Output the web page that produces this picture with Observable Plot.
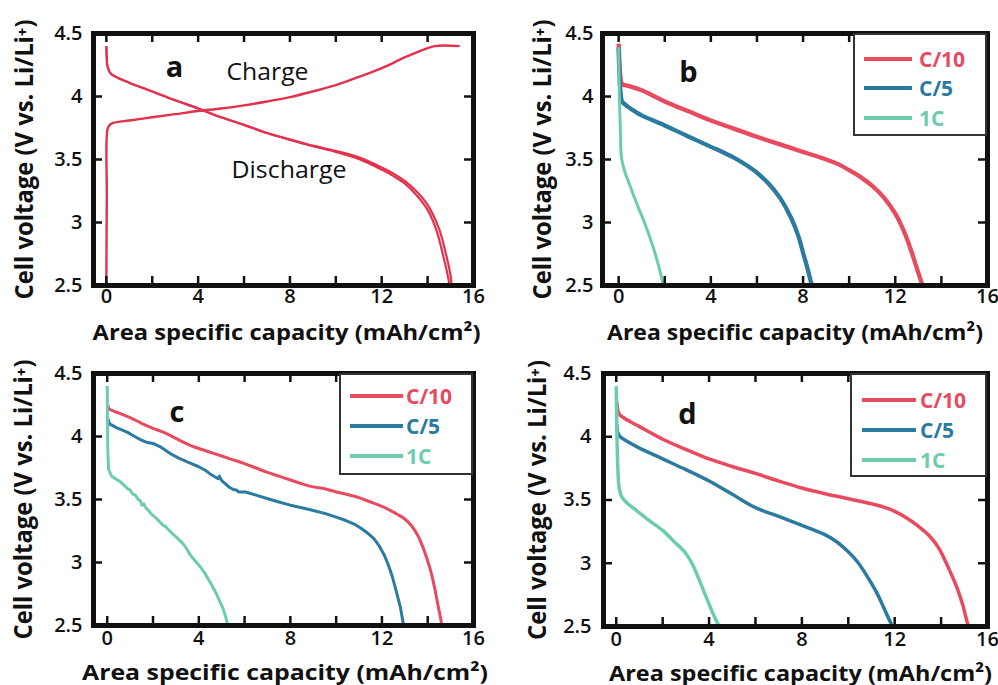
<!DOCTYPE html>
<html><head><meta charset="utf-8">
<script src="https://cdn.jsdelivr.net/npm/d3@7"></script>
<script src="https://cdn.jsdelivr.net/npm/@observablehq/plot@0.6"></script>
<style>
body{margin:0;background:#fff;}
#fig{position:relative;width:998px;height:685px;font-family:"Open Sans",sans-serif;overflow:hidden;}
.panel{position:absolute;}
.legend{position:absolute;border:2px solid #333;background:#fff;box-sizing:border-box;}
.legend .lb{position:absolute;font-weight:700;font-size:21px;line-height:1;transform:translateY(-50%);white-space:nowrap;}
.legend .sw{position:absolute;}
</style></head>
<body><div id="fig"></div>
<script>
// ---- tick values and labels ----
const xMinorTicks = [0, 2, 4, 6, 8, 10, 12, 14];
const yMinorTicks = [3, 3.5, 4];
const xTickLabels = [0, 4, 8, 12, 16];
const yTickLabels = [2.5, 3, 3.5, 4, 4.5];
const yAxisTitle = "Cell voltage (V vs. Li/Li⁺)";
const xAxisTitle = "Area specific capacity (mAh/cm²)";
const rateNames = ["C/10", "C/5", "1C"];
const rateColors = ["#e84a5f", "#2b7ba1", "#6ccdae"];
const panelAColor = "#e3324d";

// ---- panel a: charge / discharge (capacity, voltage) ----
const aCharge = [[0,2.5],[0.02,3.2],[0.05,3.74],[0.15,3.775],[0.3,3.79],[1,3.81],[2,3.835],[3,3.86],[4,3.885],[5,3.905],[6,3.93],[7,3.96],[8,3.995],[9,4.04],[10,4.09],[11,4.155],[12,4.225],[13,4.31],[13.8,4.37],[14.3,4.40],[15.4,4.40]];
const aDischarge1 = [[0,4.40],[0.02,4.30],[0.05,4.24],[0.2,4.18],[1,4.11],[2,4.04],[3,3.97],[4,3.905],[5,3.835],[6,3.775],[7,3.71],[8,3.655],[9,3.605],[10,3.56],[11,3.505],[12,3.42],[12.5,3.37],[13,3.31],[13.5,3.22],[14,3.10],[14.4,2.93],[14.7,2.72],[14.9,2.56],[14.95,2.5]];
const aDischarge2 = [[0,4.40],[0.02,4.30],[0.05,4.24],[0.2,4.18],[1,4.11],[2,4.04],[3,3.97],[4,3.905],[5,3.835],[6,3.775],[7,3.71],[8,3.66],[9,3.61],[10,3.568],[11,3.517],[12,3.437],[12.5,3.39],[13,3.33],[13.5,3.25],[14,3.14],[14.5,2.95],[14.8,2.75],[15.0,2.58],[15.05,2.5]];

// ---- panel b ----
const bC10 = [[0,4.42],[0.03,4.3],[0.08,4.15],[0.15,4.10],[0.5,4.08],[1,4.05],[2,3.96],[3,3.885],[4,3.81],[5,3.745],[6,3.68],[7,3.62],[8,3.56],[9,3.50],[9.5,3.465],[10,3.415],[10.5,3.36],[11,3.29],[11.5,3.20],[12,3.07],[12.4,2.92],[12.7,2.77],[13,2.6],[13.18,2.5]];
const bC5 = [[0,4.39],[0.03,4.2],[0.1,4.0],[0.15,3.96],[0.4,3.92],[0.72,3.88],[1,3.85],[2,3.77],[3,3.685],[4,3.60],[4.5,3.56],[5,3.515],[5.5,3.46],[6,3.395],[6.5,3.31],[7,3.195],[7.5,3.03],[7.8,2.89],[8,2.76],[8.2,2.63],[8.38,2.5]];
const b1C = [[0,4.39],[0.03,4.0],[0.08,3.7],[0.12,3.52],[0.29,3.39],[0.5,3.29],[0.72,3.18],[1.16,2.98],[1.59,2.75],[1.95,2.5]];

// ---- panel c ----
const cC10 = [[0.03,4.25],[0.08,4.22],[0.3,4.2],[0.6,4.18],[1,4.15],[1.5,4.105],[2,4.065],[2.5,4.03],[3,3.985],[3.5,3.94],[4,3.905],[4.5,3.875],[5,3.845],[5.5,3.815],[6,3.785],[6.5,3.75],[7,3.715],[7.5,3.685],[8,3.655],[8.5,3.625],[9,3.6],[9.5,3.585],[10,3.56],[10.5,3.54],[11,3.515],[11.5,3.48],[12,3.445],[12.5,3.40],[13,3.345],[13.3,3.29],[13.55,3.22],[13.75,3.14],[13.95,3.04],[14.15,2.92],[14.3,2.80],[14.45,2.66],[14.58,2.54],[14.62,2.5]];
const cC5 = [[0.03,4.14],[0.1,4.10],[0.4,4.07],[0.87,4.035],[1.2,4.0],[1.45,3.975],[1.7,3.955],[2.0,3.945],[2.3,3.92],[2.75,3.865],[3.1,3.83],[3.47,3.80],[4.0,3.76],[4.3,3.73],[4.48,3.705],[4.7,3.68],[4.84,3.665],[4.9,3.685],[5.0,3.65],[5.35,3.595],[5.5,3.58],[5.64,3.575],[5.75,3.56],[6.04,3.56],[6.5,3.535],[6.94,3.51],[7.5,3.48],[8,3.455],[8.5,3.435],[8.96,3.415],[9.5,3.39],[10,3.36],[10.4,3.335],[10.84,3.30],[11.1,3.27],[11.4,3.23],[11.65,3.19],[11.85,3.14],[12.1,3.06],[12.28,2.98],[12.45,2.89],[12.57,2.81],[12.7,2.72],[12.8,2.65],[12.9,2.55],[12.95,2.5]];
const c1C = [[0,4.40],[0.01,4.1],[0.03,3.85],[0.06,3.74],[0.15,3.70],[0.22,3.68],[0.4,3.66],[0.58,3.64],[0.75,3.61],[0.87,3.59],[1.0,3.575],[1.1,3.545],[1.23,3.535],[1.35,3.50],[1.45,3.49],[1.52,3.455],[1.6,3.465],[1.7,3.43],[1.8,3.415],[1.9,3.39],[2.02,3.37],[2.15,3.35],[2.31,3.32],[2.45,3.295],[2.55,3.285],[2.67,3.26],[2.85,3.23],[3.03,3.20],[3.2,3.17],[3.35,3.14],[3.47,3.11],[3.6,3.065],[3.76,3.03],[3.9,3.0],[4.05,2.97],[4.25,2.92],[4.41,2.87],[4.6,2.81],[4.77,2.75],[4.92,2.69],[5.06,2.635],[5.17,2.57],[5.27,2.5]];

// ---- panel d ----
const dC10 = [[0.02,4.28],[0.08,4.2],[0.17,4.17],[0.5,4.13],[1,4.08],[2,3.98],[3,3.90],[4,3.825],[5,3.765],[6,3.71],[7,3.65],[8,3.595],[9,3.55],[10,3.51],[11,3.47],[11.5,3.445],[12,3.41],[12.5,3.36],[13,3.295],[13.5,3.215],[13.9,3.12],[14.15,3.03],[14.4,2.93],[14.7,2.80],[14.95,2.66],[15.1,2.55],[15.18,2.5]];
const dC5 = [[0.02,4.1],[0.05,4.04],[0.17,4.0],[0.5,3.96],[1,3.91],[2,3.825],[3,3.74],[4,3.65],[5,3.545],[6,3.44],[7,3.37],[8,3.30],[8.95,3.23],[9.5,3.17],[10,3.09],[10.4,3.01],[10.7,2.93],[11,2.84],[11.3,2.74],[11.55,2.64],[11.75,2.56],[11.9,2.5]];
const d1C = [[0,4.4],[0.03,4.0],[0.08,3.7],[0.12,3.6],[0.25,3.52],[0.5,3.47],[0.89,3.415],[1.4,3.34],[2,3.26],[2.5,3.17],[2.9,3.10],[3.1,3.05],[3.34,2.97],[3.55,2.88],[3.77,2.78],[3.95,2.70],[4.13,2.62],[4.3,2.55],[4.44,2.5]];

const font = '"Open Sans", "DejaVu Sans", sans-serif';
const ink = "#111";

const panels = [
  {left:0, top:0, width:499, height:342, ml:93, mr:26, mt:33, mb:57, xDomain:[-0.56,16],
   series:[{data:aCharge,color:panelAColor,sw:2.4},{data:aDischarge1,color:panelAColor,sw:2.2},{data:aDischarge2,color:panelAColor,sw:2.2}],
   letter:"a", letterDx:81, letterDy:34, yTitleDx:-69, yTickDx:-11, xTitleDx:3, xTickDy:17, xTitleLen:388, yTitleLen:280,
   notes:[{text:"Charge",dx:174,dy:39.5,len:82},{text:"Discharge",dx:195.5,dy:137.5,len:115}]},
  {left:499, top:0, width:499, height:342, ml:103, mr:11, mt:33, mb:57, xDomain:[-0.7,16],
   series:[{data:bC10,color:rateColors[0],sw:4.3},{data:bC5,color:rateColors[1],sw:4.3},{data:b1C,color:rateColors[2],sw:3}],
   letter:"b", letterDx:86, letterDy:39, yTitleDx:-60, yTickDx:-9, xTitleDx:0, xTickDy:17, xTitleLen:376, yTitleLen:280,
   legend:{left:853,top:33,width:134,height:103,x0:9,x1:57,lx:64,rows:[24,53,83],sw:[4.3,4.3,3.5]}},
  {left:0, top:340, width:499, height:345, ml:93, mr:26, mt:33, mb:60, xDomain:[-0.6,16],
   series:[{data:cC10,color:rateColors[0],sw:3},{data:cC5,color:rateColors[1],sw:3,curve:"linear"},{data:c1C,color:rateColors[2],sw:3,curve:"linear"}],
   letter:"c", letterDx:83.5, letterDy:39, yTitleDx:-70, yTickDx:-11, xTitleDx:1.5, xTickDy:19, xTitleLen:406, yTitleLen:280,
   legend:{left:339,top:373,width:134,height:102,x0:9,x1:62,lx:65,rows:[21,51,81],sw:[3.5,3.5,3.5]}},
  {left:499, top:340, width:499, height:345, ml:104, mr:11, mt:33, mb:59, xDomain:[-0.55,16],
   series:[{data:dC10,color:rateColors[0],sw:3.5},{data:dC5,color:rateColors[1],sw:3.5},{data:d1C,color:rateColors[2],sw:3.5}],
   letter:"d", letterDx:84, letterDy:41, yTitleDx:-66, yTickDx:-12, xTitleDx:5, xTickDy:19, xTitleLen:383, yTitleLen:280,
   legend:{left:850,top:373,width:137,height:104,x0:10,x1:64,lx:68,rows:[25,55,85],sw:[3.5,3.5,3.5]}}
];

const fig = document.getElementById("fig");

function makePanel(cfg) {
  const W = cfg.width - cfg.ml - cfg.mr, H = cfg.height - cfg.mt - cfg.mb;
  const tk = 9;
  const marks = [];
  for (const s of cfg.series) {
    marks.push(Plot.line(s.data, {x: d => d[0], y: d => d[1], stroke: s.color, strokeWidth: s.sw,
      curve: s.curve || "catmull-rom", clip: true, strokeLinejoin: "round", strokeLinecap: "butt"}));
  }
  const tickStyle = {stroke: ink, strokeWidth: 2.5};
  marks.push(Plot.tickX(xMinorTicks, {x: d => d, insetTop: H - tk, ...tickStyle}));
  marks.push(Plot.tickX(xMinorTicks, {x: d => d, insetBottom: H - tk, ...tickStyle}));
  marks.push(Plot.tickY(yMinorTicks, {y: d => d, insetRight: W - tk, ...tickStyle}));
  marks.push(Plot.tickY(yMinorTicks, {y: d => d, insetLeft: W - tk, ...tickStyle}));
  marks.push(Plot.frame({stroke: ink, strokeWidth: 5}));
  marks.push(Plot.text(xTickLabels, {x: d => d, text: d => String(d), frameAnchor: "bottom", dy: cfg.xTickDy,
    textAnchor: "middle", fontSize: 20, fontWeight: 600, fill: ink}));
  marks.push(Plot.text(yTickLabels, {y: d => d, text: d => String(d), frameAnchor: "left", dx: cfg.yTickDx,
    textAnchor: "end", fontSize: 20, fontWeight: 600, fill: ink}));
  marks.push(Plot.text([xAxisTitle], {text: d => d, frameAnchor: "bottom", dx: cfg.xTitleDx, dy: 54,
    textAnchor: "middle", lineAnchor: "bottom", fontSize: 22, fontWeight: 700, fill: ink}));
  marks.push(Plot.text([yAxisTitle], {text: d => d, frameAnchor: "left", dx: cfg.yTitleDx, rotate: -90,
    textAnchor: "middle", lineAnchor: "middle", fontSize: 25, fontWeight: 700, fill: ink}));
  marks.push(Plot.text([cfg.letter], {text: d => d, frameAnchor: "top-left", dx: cfg.letterDx, dy: cfg.letterDy,
    textAnchor: "middle", lineAnchor: "middle", fontSize: 29, fontWeight: 700, fill: ink}));
  for (const n of (cfg.notes || [])) {
    marks.push(Plot.text([n.text], {text: d => d, frameAnchor: "top-left", dx: n.dx, dy: n.dy,
      textAnchor: "middle", lineAnchor: "middle", fontSize: 23, fontWeight: 400, fill: ink}));
  }
  const svg = Plot.plot({
    width: cfg.width, height: cfg.height,
    marginLeft: cfg.ml, marginRight: cfg.mr, marginTop: cfg.mt, marginBottom: cfg.mb,
    x: {domain: cfg.xDomain, axis: null},
    y: {domain: [2.5, 4.5], axis: null},
    style: {background: "transparent", overflow: "visible", fontFamily: font},
    marks
  });
  const lengths = {[xAxisTitle]: cfg.xTitleLen, [yAxisTitle]: cfg.yTitleLen};
  for (const n of (cfg.notes || [])) lengths[n.text] = n.len;
  for (const t of svg.querySelectorAll("text")) {
    const L = lengths[t.textContent];
    if (L) { t.setAttribute("textLength", L); t.setAttribute("lengthAdjust", "spacingAndGlyphs"); }
  }
  svg.classList.add("panel");
  svg.style.left = cfg.left + "px";
  svg.style.top = cfg.top + "px";
  svg.style.position = "absolute";
  fig.appendChild(svg);
  if (cfg.legend) addLegend(cfg.legend);
}

function addLegend(L) {
  const box = document.createElement("div");
  box.className = "legend";
  Object.assign(box.style, {left: L.left + "px", top: L.top + "px", width: L.width + "px", height: L.height + "px"});
  rateNames.forEach((name, i) => {
    const sw = document.createElement("div");
    sw.className = "sw";
    Object.assign(sw.style, {left: L.x0 + "px", width: (L.x1 - L.x0) + "px", top: (L.rows[i] - L.sw[i] / 2) + "px",
      height: L.sw[i] + "px", background: rateColors[i]});
    const lb = document.createElement("div");
    lb.className = "lb";
    lb.textContent = name;
    Object.assign(lb.style, {left: L.lx + "px", top: L.rows[i] + "px", color: rateColors[i]});
    box.appendChild(sw);
    box.appendChild(lb);
  });
  fig.appendChild(box);
}

panels.forEach(makePanel);
</script>
</body></html>
